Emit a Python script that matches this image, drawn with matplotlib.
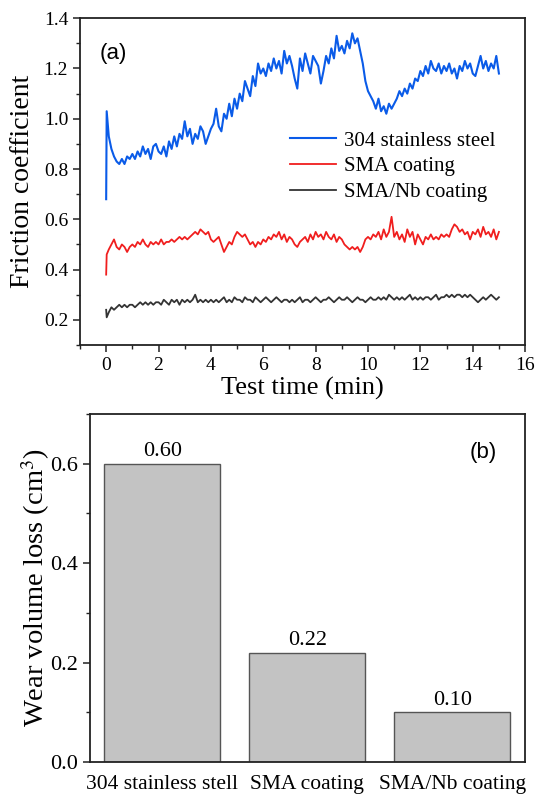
import numpy as np
import matplotlib.pyplot as plt
from matplotlib.ticker import MultipleLocator

plt.rcParams["font.family"] = ["Liberation Serif", "DejaVu Serif"]
plt.rcParams["mathtext.fontset"] = "stix"

# ---- panel (a): friction coefficient vs test time ----
# first two points capture the running-in spike at t = 0
start_time = [0.0, 0.02]
time = np.round(np.arange(0.1, 15.001, 0.1), 2)

steel_start = [0.68, 1.03]
steel = [
    0.93, 0.88, 0.85, 0.83, 0.82, 0.84, 0.82, 0.85, 0.84, 0.86,
    0.84, 0.87, 0.85, 0.89, 0.86, 0.88, 0.84, 0.89, 0.90, 0.87,
    0.86, 0.89, 0.85, 0.91, 0.88, 0.93, 0.89, 0.94, 0.92, 0.99,
    0.93, 0.96, 0.90, 0.94, 0.92, 0.97, 0.95, 0.90, 0.93, 0.96,
    0.98, 1.04, 0.97, 0.95, 1.02, 1.00, 1.06, 1.01, 1.08, 1.04,
    1.10, 1.07, 1.15, 1.12, 1.09, 1.17, 1.13, 1.22, 1.18, 1.20,
    1.17, 1.22, 1.19, 1.24, 1.20, 1.23, 1.18, 1.27, 1.22, 1.25,
    1.21, 1.16, 1.12, 1.24, 1.19, 1.26, 1.22, 1.18, 1.25, 1.23,
    1.21, 1.14, 1.19, 1.25, 1.22, 1.28, 1.24, 1.33, 1.27, 1.29,
    1.26, 1.31, 1.28, 1.34, 1.30, 1.32, 1.27, 1.22, 1.15, 1.11,
    1.09, 1.07, 1.04, 1.08, 1.03, 1.05, 1.02, 1.06, 1.04, 1.06,
    1.08, 1.11, 1.09, 1.12, 1.10, 1.14, 1.12, 1.16, 1.15, 1.19,
    1.17, 1.21, 1.18, 1.23, 1.20, 1.19, 1.22, 1.18, 1.21, 1.19,
    1.22, 1.18, 1.20, 1.16, 1.21, 1.19, 1.23, 1.20, 1.22, 1.18,
    1.17, 1.21, 1.25, 1.20, 1.23, 1.19, 1.22, 1.20, 1.25, 1.18,
]

sma_start = [0.38, 0.46]
sma = [
    0.48, 0.50, 0.52, 0.49, 0.48, 0.50, 0.49, 0.47, 0.49, 0.50,
    0.49, 0.51, 0.50, 0.52, 0.50, 0.49, 0.51, 0.50, 0.51, 0.50,
    0.52, 0.50, 0.51, 0.51, 0.52, 0.51, 0.52, 0.53, 0.52, 0.53,
    0.52, 0.53, 0.54, 0.55, 0.54, 0.56, 0.55, 0.54, 0.55, 0.52,
    0.51, 0.52, 0.53, 0.50, 0.47, 0.49, 0.51, 0.50, 0.53, 0.55,
    0.54, 0.53, 0.54, 0.52, 0.50, 0.51, 0.49, 0.51, 0.50, 0.52,
    0.51, 0.53, 0.52, 0.54, 0.53, 0.55, 0.52, 0.54, 0.51, 0.53,
    0.52, 0.50, 0.49, 0.51, 0.52, 0.53, 0.51, 0.54, 0.52, 0.55,
    0.53, 0.54, 0.52, 0.55, 0.53, 0.52, 0.54, 0.51, 0.53, 0.52,
    0.50, 0.49, 0.48, 0.49, 0.48, 0.49, 0.47, 0.49, 0.52, 0.53,
    0.52, 0.54, 0.53, 0.55, 0.52, 0.56, 0.53, 0.55, 0.61, 0.53,
    0.55, 0.52, 0.54, 0.51, 0.56, 0.53, 0.55, 0.50, 0.54, 0.52,
    0.50, 0.53, 0.52, 0.54, 0.52, 0.53, 0.52, 0.54, 0.53, 0.54,
    0.53, 0.56, 0.58, 0.57, 0.55, 0.56, 0.54, 0.55, 0.52, 0.55,
    0.54, 0.56, 0.53, 0.57, 0.54, 0.55, 0.53, 0.56, 0.52, 0.55,
]

sma_nb_start = [0.24, 0.21]
sma_nb = [
    0.23, 0.25, 0.24, 0.25, 0.26, 0.25, 0.26, 0.25, 0.26, 0.26,
    0.25, 0.26, 0.27, 0.26, 0.27, 0.26, 0.27, 0.26, 0.27, 0.27,
    0.26, 0.28, 0.27, 0.26, 0.28, 0.27, 0.28, 0.26, 0.28, 0.27,
    0.28, 0.27, 0.28, 0.30, 0.27, 0.28, 0.27, 0.28, 0.27, 0.28,
    0.27, 0.28, 0.27, 0.28, 0.29, 0.27, 0.28, 0.27, 0.29, 0.28,
    0.28, 0.27, 0.29, 0.28, 0.28, 0.27, 0.29, 0.28, 0.27, 0.28,
    0.29, 0.28, 0.27, 0.28, 0.29, 0.28, 0.27, 0.28, 0.28, 0.27,
    0.28, 0.27, 0.28, 0.29, 0.27, 0.28, 0.28, 0.27, 0.28, 0.29,
    0.28, 0.27, 0.28, 0.28, 0.29, 0.28, 0.27, 0.28, 0.29, 0.28,
    0.28, 0.29, 0.28, 0.27, 0.28, 0.29, 0.28, 0.28, 0.27, 0.28,
    0.29, 0.28, 0.28, 0.29, 0.28, 0.29, 0.28, 0.30, 0.29, 0.28,
    0.29, 0.28, 0.29, 0.28, 0.29, 0.30, 0.28, 0.29, 0.28, 0.29,
    0.28, 0.29, 0.29, 0.28, 0.29, 0.30, 0.28, 0.29, 0.29, 0.30,
    0.29, 0.30, 0.29, 0.30, 0.30, 0.29, 0.30, 0.29, 0.30, 0.29,
    0.28, 0.27, 0.28, 0.29, 0.28, 0.29, 0.30, 0.29, 0.28, 0.29,
]

series_labels = ["304 stainless steel", "SMA coating", "SMA/Nb coating"]
series_colors = ["#0A5BE8", "#F01E1E", "#333333"]
series_widths = [1.5, 1.3, 1.3]

# ---- panel (b): wear volume loss ----
materials = ["304 stainless stell", "SMA coating", "SMA/Nb coating"]
wear_loss = [0.60, 0.22, 0.10]


def style_axis(ax, labelsize):
    for s in ax.spines.values():
        s.set_linewidth(1.3)
        s.set_color("#222222")
    ax.tick_params(which="major", direction="out", length=5, width=1.1,
                   labelsize=labelsize, color="#222222")
    ax.tick_params(which="minor", direction="out", length=3, width=1.0, color="#222222")


fig = plt.figure(figsize=(5.35, 7.96), dpi=100)

ax1 = fig.add_axes([0.1495, 0.5666, 0.832, 0.4105])
full_t = np.concatenate([start_time, time])
for vals, first, lab, col, lw in zip([steel, sma, sma_nb],
                                     [steel_start, sma_start, sma_nb_start],
                                     series_labels, series_colors, series_widths):
    ax1.plot(full_t, np.concatenate([first, vals]), color=col, lw=lw, label=lab)
ax1.set_xlim(-1, 16)
ax1.set_ylim(0.1, 1.4)
ax1.xaxis.set_major_locator(MultipleLocator(2))
ax1.xaxis.set_minor_locator(MultipleLocator(1))
ax1.yaxis.set_major_locator(MultipleLocator(0.2))
ax1.yaxis.set_minor_locator(MultipleLocator(0.1))
ax1.yaxis.set_major_formatter(plt.FormatStrFormatter("%.1f"))
style_axis(ax1, 14)
ax1.set_xlabel("Test time (min)", fontsize=19, labelpad=2)
ax1.set_ylabel("Friction coefficient", fontsize=20, labelpad=6)
ax1.text(0.045, 0.925, "(a)", transform=ax1.transAxes, fontsize=16,
         family=["Liberation Sans", "DejaVu Sans"], va="top")
ax1.legend(loc="upper left", bbox_to_anchor=(0.472, 0.655), frameon=False,
           fontsize=15, handlelength=2.2, handletextpad=0.4,
           labelspacing=0.3, borderpad=0, borderaxespad=0)

ax2 = fig.add_axes([0.168, 0.0427, 0.813, 0.4375])
xpos = np.arange(len(materials))
bars = ax2.bar(xpos, wear_loss, width=0.8, color="#C3C3C3",
               edgecolor="#555555", linewidth=1.0)
for b, v in zip(bars, wear_loss):
    ax2.text(b.get_x() + b.get_width() / 2, v + 0.005, f"{v:.2f}",
             ha="center", va="bottom", fontsize=16)
ax2.set_xlim(-0.5, 2.5)
ax2.set_ylim(0, 0.7)
ax2.set_xticks(xpos)
ax2.set_xticklabels(materials)
ax2.yaxis.set_major_locator(MultipleLocator(0.2))
ax2.yaxis.set_minor_locator(MultipleLocator(0.1))
ax2.yaxis.set_major_formatter(plt.FormatStrFormatter("%.1f"))
style_axis(ax2, 16)
ax2.tick_params(axis="x", which="both", length=0, pad=9, labelsize=15.5)
ax2.set_ylabel("Wear volume loss (cm$^3$)", fontsize=20.5)
ax2.yaxis.set_label_coords(-0.087, 0.5)
ax2.text(0.905, 0.92, "(b)", transform=ax2.transAxes, fontsize=16,
         family=["Liberation Sans", "DejaVu Sans"], va="top", ha="center")

fig.savefig("out.png", dpi=100)
